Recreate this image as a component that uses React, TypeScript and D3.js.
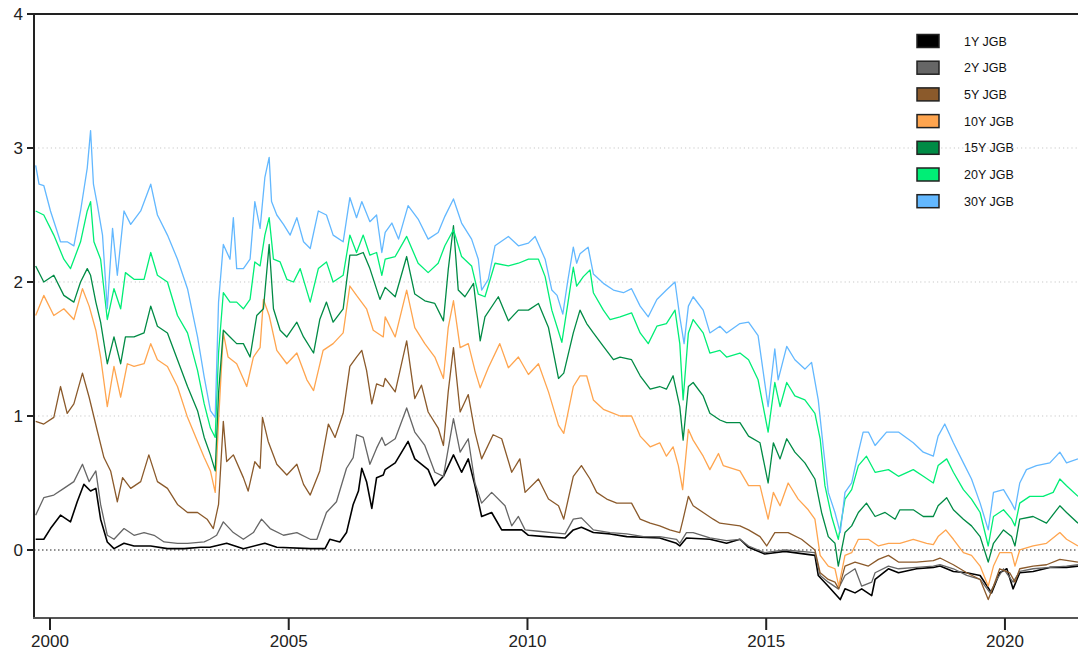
import React from "react";
import * as d3 from "d3";

// JGB yields (%), [decimal year, value]
const y1: [number, number][] = [
  [1999.7, 0.08], [1999.87, 0.08], [2000.01, 0.16], [2000.22, 0.26], [2000.43, 0.21], [2000.57, 0.36], [2000.71, 0.49],
  [2000.85, 0.44], [2000.96, 0.46], [2001.06, 0.23], [2001.2, 0.06], [2001.34, 0.01], [2001.55, 0.05], [2001.76, 0.03],
  [2002.11, 0.03], [2002.46, 0.01], [2002.81, 0.01], [2003.16, 0.02], [2003.35, 0.02], [2003.7, 0.05], [2004.05, 0.01],
  [2004.5, 0.05], [2004.75, 0.02], [2005.45, 0.01], [2005.76, 0.01], [2005.86, 0.08], [2006.07, 0.06], [2006.21, 0.13],
  [2006.35, 0.34], [2006.46, 0.44], [2006.53, 0.61], [2006.63, 0.51], [2006.74, 0.31], [2006.84, 0.54], [2006.98, 0.56],
  [2007.02, 0.6], [2007.23, 0.65], [2007.5, 0.81], [2007.64, 0.68], [2007.92, 0.6], [2008.06, 0.48], [2008.24, 0.55],
  [2008.45, 0.71], [2008.62, 0.58], [2008.76, 0.68], [2008.9, 0.48], [2009.04, 0.25], [2009.25, 0.28], [2009.46, 0.15],
  [2009.67, 0.15], [2009.88, 0.15], [2010.02, 0.11], [2010.37, 0.1], [2010.79, 0.09], [2010.96, 0.15], [2011.13, 0.17],
  [2011.38, 0.13], [2011.73, 0.12], [2012.08, 0.1], [2012.77, 0.09], [2013.12, 0.05], [2013.19, 0.03], [2013.33, 0.09],
  [2013.82, 0.08], [2014.17, 0.05], [2014.45, 0.08], [2014.63, 0.02], [2014.97, -0.03], [2015.39, -0.01], [2016.02, -0.04],
  [2016.09, -0.19], [2016.3, -0.27], [2016.55, -0.37], [2016.65, -0.29], [2016.86, -0.32], [2017.0, -0.29], [2017.21, -0.34],
  [2017.28, -0.22], [2017.56, -0.14], [2017.77, -0.17], [2018.15, -0.14], [2018.5, -0.13], [2018.64, -0.12], [2018.92, -0.16],
  [2019.2, -0.17], [2019.48, -0.19], [2019.72, -0.32], [2019.89, -0.17], [2020.04, -0.14], [2020.17, -0.29], [2020.31, -0.17],
  [2020.59, -0.16], [2020.94, -0.13], [2021.29, -0.13], [2021.53, -0.12],
];

const y2: [number, number][] = [
  [1999.7, 0.26], [1999.87, 0.39], [2000.08, 0.41], [2000.29, 0.46], [2000.5, 0.51], [2000.68, 0.64], [2000.82, 0.51],
  [2000.96, 0.59], [2001.06, 0.34], [2001.2, 0.11], [2001.34, 0.08], [2001.55, 0.16], [2001.76, 0.11], [2001.97, 0.13],
  [2002.18, 0.11], [2002.39, 0.06], [2002.67, 0.05], [2002.88, 0.05], [2003.23, 0.06], [2003.35, 0.08], [2003.49, 0.11],
  [2003.63, 0.21], [2003.84, 0.13], [2004.05, 0.08], [2004.26, 0.13], [2004.43, 0.23], [2004.61, 0.16], [2004.89, 0.11],
  [2005.17, 0.13], [2005.45, 0.08], [2005.59, 0.08], [2005.79, 0.28], [2006.0, 0.36], [2006.21, 0.61], [2006.35, 0.69],
  [2006.42, 0.86], [2006.56, 0.84], [2006.7, 0.64], [2006.84, 0.76], [2006.95, 0.84], [2007.02, 0.78], [2007.23, 0.83],
  [2007.47, 1.06], [2007.64, 0.88], [2007.85, 0.78], [2008.06, 0.58], [2008.24, 0.55], [2008.45, 0.98], [2008.59, 0.73],
  [2008.76, 0.83], [2008.9, 0.5], [2009.04, 0.35], [2009.25, 0.43], [2009.53, 0.33], [2009.67, 0.18], [2009.81, 0.25],
  [2009.95, 0.15], [2010.23, 0.14], [2010.51, 0.13], [2010.79, 0.12], [2010.96, 0.23], [2011.13, 0.24], [2011.38, 0.15],
  [2011.73, 0.13], [2012.08, 0.12], [2012.43, 0.1], [2012.77, 0.1], [2013.12, 0.08], [2013.19, 0.05], [2013.33, 0.13],
  [2013.47, 0.13], [2013.82, 0.09], [2014.17, 0.07], [2014.45, 0.08], [2014.63, 0.03], [2014.97, -0.02], [2015.39, 0.0],
  [2016.02, -0.02], [2016.13, -0.19], [2016.3, -0.24], [2016.51, -0.29], [2016.65, -0.19], [2016.86, -0.14], [2017.0, -0.27],
  [2017.21, -0.24], [2017.28, -0.17], [2017.56, -0.12], [2017.77, -0.14], [2018.15, -0.13], [2018.5, -0.12], [2018.64, -0.11],
  [2018.92, -0.14], [2019.2, -0.19], [2019.48, -0.22], [2019.69, -0.32], [2019.83, -0.22], [2019.97, -0.14], [2020.17, -0.24],
  [2020.31, -0.16], [2020.59, -0.14], [2020.94, -0.13], [2021.29, -0.12], [2021.53, -0.11],
];

const y5: [number, number][] = [
  [1999.7, 0.96], [1999.87, 0.94], [2000.08, 0.99], [2000.22, 1.22], [2000.36, 1.02], [2000.5, 1.09], [2000.68, 1.32],
  [2000.82, 1.14], [2000.99, 0.89], [2001.13, 0.69], [2001.27, 0.59], [2001.41, 0.36], [2001.52, 0.54], [2001.69, 0.46],
  [2001.9, 0.51], [2002.07, 0.71], [2002.25, 0.51], [2002.46, 0.46], [2002.67, 0.34], [2002.88, 0.28], [2003.09, 0.28],
  [2003.29, 0.23], [2003.42, 0.16], [2003.53, 0.34], [2003.63, 0.96], [2003.7, 0.66], [2003.84, 0.71], [2004.05, 0.54],
  [2004.15, 0.44], [2004.29, 0.66], [2004.4, 0.61], [2004.45, 0.99], [2004.57, 0.81], [2004.75, 0.64], [2004.96, 0.56],
  [2005.17, 0.64], [2005.31, 0.49], [2005.45, 0.41], [2005.65, 0.59], [2005.83, 0.94], [2005.97, 0.84], [2006.14, 1.02],
  [2006.28, 1.37], [2006.42, 1.44], [2006.53, 1.49], [2006.63, 1.34], [2006.74, 1.09], [2006.84, 1.24], [2006.98, 1.22],
  [2007.02, 1.28], [2007.23, 1.18], [2007.47, 1.56], [2007.64, 1.13], [2007.78, 1.23], [2007.92, 1.03], [2008.13, 0.91],
  [2008.24, 0.78], [2008.34, 1.18], [2008.45, 1.51], [2008.59, 1.03], [2008.76, 1.16], [2008.9, 0.88], [2009.04, 0.68],
  [2009.28, 0.86], [2009.46, 0.83], [2009.67, 0.58], [2009.84, 0.68], [2009.95, 0.43], [2010.23, 0.53], [2010.44, 0.38],
  [2010.65, 0.33], [2010.76, 0.23], [2010.96, 0.55], [2011.13, 0.63], [2011.31, 0.53], [2011.45, 0.43], [2011.66, 0.38],
  [2011.87, 0.35], [2012.18, 0.35], [2012.36, 0.23], [2012.57, 0.2], [2012.77, 0.18], [2012.98, 0.15], [2013.19, 0.13],
  [2013.26, 0.23], [2013.37, 0.4], [2013.47, 0.33], [2013.68, 0.28], [2013.89, 0.23], [2014.03, 0.2], [2014.45, 0.18],
  [2014.63, 0.15], [2014.87, 0.1], [2015.01, 0.03], [2015.18, 0.13], [2015.46, 0.13], [2015.74, 0.08], [2016.02, 0.0],
  [2016.13, -0.17], [2016.3, -0.22], [2016.44, -0.24], [2016.52, -0.29], [2016.65, -0.12], [2016.86, -0.09], [2017.14, -0.12],
  [2017.35, -0.07], [2017.56, -0.04], [2017.77, -0.09], [2018.15, -0.09], [2018.5, -0.08], [2018.64, -0.06], [2018.92, -0.11],
  [2019.2, -0.17], [2019.48, -0.22], [2019.65, -0.37], [2019.76, -0.27], [2019.89, -0.14], [2020.1, -0.17], [2020.21, -0.24],
  [2020.31, -0.14], [2020.59, -0.12], [2020.87, -0.11], [2021.15, -0.07], [2021.53, -0.09],
];

const y10: [number, number][] = [
  [1999.7, 1.75], [1999.87, 1.9], [2000.08, 1.75], [2000.29, 1.8], [2000.5, 1.72], [2000.68, 1.95], [2000.82, 1.82],
  [2000.96, 1.64], [2001.06, 1.44], [2001.2, 1.07], [2001.34, 1.37], [2001.48, 1.14], [2001.62, 1.39], [2001.76, 1.37],
  [2001.97, 1.39], [2002.11, 1.54], [2002.25, 1.42], [2002.46, 1.37], [2002.67, 1.22], [2002.88, 0.99], [2003.09, 0.81],
  [2003.23, 0.69], [2003.36, 0.59], [2003.46, 0.43], [2003.53, 0.96], [2003.63, 1.62], [2003.73, 1.44], [2003.91, 1.39],
  [2004.12, 1.22], [2004.26, 1.44], [2004.4, 1.51], [2004.47, 1.87], [2004.59, 1.75], [2004.75, 1.49], [2004.96, 1.39],
  [2005.17, 1.47], [2005.38, 1.27], [2005.52, 1.19], [2005.72, 1.49], [2005.93, 1.54], [2006.14, 1.62], [2006.28, 1.97],
  [2006.42, 1.9], [2006.63, 1.8], [2006.77, 1.64], [2006.98, 1.59], [2007.02, 1.74], [2007.23, 1.59], [2007.47, 1.94],
  [2007.64, 1.66], [2007.85, 1.54], [2008.06, 1.44], [2008.24, 1.28], [2008.34, 1.66], [2008.45, 1.86], [2008.59, 1.51],
  [2008.76, 1.54], [2008.9, 1.34], [2009.01, 1.21], [2009.18, 1.36], [2009.42, 1.54], [2009.6, 1.36], [2009.81, 1.44],
  [2010.02, 1.31], [2010.23, 1.39], [2010.44, 1.18], [2010.65, 0.93], [2010.76, 0.87], [2010.96, 1.22], [2011.1, 1.3],
  [2011.24, 1.3], [2011.38, 1.12], [2011.59, 1.05], [2011.8, 1.02], [2011.94, 1.0], [2012.18, 1.0], [2012.36, 0.85],
  [2012.57, 0.77], [2012.77, 0.8], [2012.91, 0.7], [2013.05, 0.77], [2013.16, 0.63], [2013.25, 0.45], [2013.37, 0.9],
  [2013.47, 0.82], [2013.68, 0.7], [2013.82, 0.6], [2014.0, 0.72], [2014.1, 0.63], [2014.45, 0.59], [2014.63, 0.48],
  [2014.87, 0.48], [2015.04, 0.23], [2015.15, 0.43], [2015.29, 0.33], [2015.46, 0.5], [2015.67, 0.38], [2015.88, 0.3],
  [2016.02, 0.23], [2016.13, -0.04], [2016.3, -0.12], [2016.44, -0.14], [2016.52, -0.27], [2016.65, -0.04], [2016.79, -0.02],
  [2016.93, 0.08], [2017.14, 0.08], [2017.35, 0.03], [2017.56, 0.05], [2017.8, 0.05], [2018.08, 0.08], [2018.36, 0.05],
  [2018.5, 0.04], [2018.6, 0.1], [2018.76, 0.15], [2018.92, 0.08], [2019.13, -0.02], [2019.3, -0.04], [2019.48, -0.12],
  [2019.65, -0.27], [2019.76, -0.12], [2019.89, -0.02], [2020.14, -0.02], [2020.21, -0.12], [2020.31, 0.0], [2020.59, 0.03],
  [2020.87, 0.05], [2021.15, 0.13], [2021.29, 0.08], [2021.53, 0.03],
];

const y15: [number, number][] = [
  [1999.7, 2.12], [1999.87, 2.0], [2000.08, 2.05], [2000.29, 1.9], [2000.5, 1.85], [2000.64, 2.0], [2000.78, 2.1],
  [2000.85, 2.05], [2000.96, 1.85], [2001.06, 1.7], [2001.2, 1.39], [2001.34, 1.59], [2001.48, 1.39], [2001.58, 1.59],
  [2001.76, 1.59], [2001.97, 1.62], [2002.11, 1.82], [2002.25, 1.67], [2002.46, 1.62], [2002.67, 1.42], [2002.88, 1.22],
  [2003.09, 1.04], [2003.23, 0.84], [2003.36, 0.71], [2003.46, 0.59], [2003.53, 1.17], [2003.63, 1.64], [2003.77, 1.59],
  [2003.91, 1.54], [2004.05, 1.54], [2004.19, 1.44], [2004.33, 1.75], [2004.47, 1.8], [2004.59, 2.28], [2004.68, 1.8],
  [2004.82, 1.64], [2004.96, 1.59], [2005.17, 1.7], [2005.31, 1.59], [2005.52, 1.47], [2005.65, 1.72], [2005.79, 1.85],
  [2005.93, 1.7], [2006.14, 1.8], [2006.28, 2.2], [2006.42, 2.2], [2006.56, 2.22], [2006.7, 2.1], [2006.91, 1.87],
  [2007.02, 1.96], [2007.23, 1.89], [2007.47, 2.19], [2007.64, 1.91], [2007.85, 1.86], [2008.06, 1.84], [2008.24, 1.71],
  [2008.34, 2.09], [2008.45, 2.42], [2008.55, 1.94], [2008.69, 1.89], [2008.87, 1.99], [2009.01, 1.56], [2009.11, 1.74],
  [2009.39, 1.89], [2009.6, 1.71], [2009.81, 1.79], [2010.02, 1.79], [2010.23, 1.84], [2010.44, 1.66], [2010.65, 1.28],
  [2010.76, 1.32], [2010.96, 1.62], [2011.1, 1.79], [2011.24, 1.69], [2011.38, 1.62], [2011.59, 1.52], [2011.8, 1.42],
  [2011.94, 1.44], [2012.18, 1.42], [2012.36, 1.3], [2012.57, 1.2], [2012.77, 1.22], [2012.91, 1.2], [2013.05, 1.3],
  [2013.19, 1.07], [2013.26, 0.82], [2013.37, 1.22], [2013.47, 1.25], [2013.68, 1.15], [2013.82, 1.02], [2014.03, 0.97],
  [2014.17, 0.95], [2014.45, 0.95], [2014.63, 0.85], [2014.87, 0.8], [2015.04, 0.5], [2015.15, 0.8], [2015.29, 0.68],
  [2015.43, 0.83], [2015.6, 0.73], [2015.81, 0.65], [2016.02, 0.53], [2016.16, 0.28], [2016.3, 0.1], [2016.44, 0.05],
  [2016.51, -0.12], [2016.65, 0.13], [2016.79, 0.18], [2016.93, 0.28], [2017.1, 0.35], [2017.28, 0.25], [2017.49, 0.28],
  [2017.7, 0.23], [2017.8, 0.3], [2018.08, 0.3], [2018.29, 0.25], [2018.5, 0.25], [2018.6, 0.33], [2018.78, 0.39],
  [2018.92, 0.3], [2019.13, 0.23], [2019.3, 0.18], [2019.48, 0.1], [2019.65, -0.09], [2019.76, 0.05], [2019.97, 0.15],
  [2020.14, 0.1], [2020.21, 0.03], [2020.31, 0.23], [2020.59, 0.25], [2020.87, 0.2], [2021.15, 0.33], [2021.29, 0.28],
  [2021.53, 0.2],
];

const y20: [number, number][] = [
  [1999.7, 2.53], [1999.87, 2.5], [2000.08, 2.35], [2000.29, 2.17], [2000.43, 2.1], [2000.64, 2.3], [2000.78, 2.53],
  [2000.85, 2.6], [2000.92, 2.3], [2001.06, 2.17], [2001.2, 1.72], [2001.34, 1.95], [2001.48, 1.8], [2001.58, 2.07],
  [2001.76, 2.02], [2001.97, 2.02], [2002.11, 2.22], [2002.25, 2.05], [2002.46, 2.0], [2002.67, 1.75], [2002.88, 1.62],
  [2003.09, 1.34], [2003.23, 1.09], [2003.36, 0.91], [2003.46, 0.84], [2003.53, 1.47], [2003.63, 1.92], [2003.77, 1.85],
  [2003.91, 1.85], [2004.05, 1.8], [2004.19, 1.87], [2004.29, 2.15], [2004.4, 2.12], [2004.5, 2.35], [2004.59, 2.48],
  [2004.68, 2.17], [2004.82, 2.15], [2004.96, 2.02], [2005.1, 2.0], [2005.24, 2.1], [2005.45, 1.85], [2005.62, 2.1],
  [2005.79, 2.15], [2005.93, 2.0], [2006.14, 2.05], [2006.28, 2.35], [2006.42, 2.22], [2006.56, 2.35], [2006.7, 2.2],
  [2006.84, 2.22], [2006.95, 2.05], [2007.02, 2.17], [2007.23, 2.19], [2007.47, 2.34], [2007.71, 2.14], [2007.92, 2.07],
  [2008.13, 2.14], [2008.27, 2.27], [2008.45, 2.39], [2008.62, 2.19], [2008.83, 2.12], [2008.97, 1.91], [2009.11, 1.89],
  [2009.32, 2.14], [2009.6, 2.12], [2009.81, 2.14], [2010.02, 2.17], [2010.23, 2.17], [2010.37, 2.04], [2010.51, 1.79],
  [2010.72, 1.55], [2010.85, 1.85], [2010.96, 2.11], [2011.03, 1.97], [2011.17, 2.04], [2011.31, 2.09], [2011.38, 1.92],
  [2011.59, 1.79], [2011.73, 1.72], [2011.94, 1.74], [2012.18, 1.77], [2012.36, 1.62], [2012.53, 1.54], [2012.71, 1.67],
  [2012.91, 1.69], [2013.09, 1.79], [2013.19, 1.54], [2013.26, 1.12], [2013.37, 1.62], [2013.47, 1.72], [2013.68, 1.62],
  [2013.82, 1.47], [2014.03, 1.49], [2014.17, 1.44], [2014.45, 1.47], [2014.63, 1.42], [2014.83, 1.27], [2015.04, 0.88],
  [2015.18, 1.25], [2015.29, 1.07], [2015.43, 1.25], [2015.6, 1.15], [2015.81, 1.12], [2016.02, 1.02], [2016.13, 0.83],
  [2016.23, 0.48], [2016.37, 0.25], [2016.51, 0.08], [2016.65, 0.38], [2016.79, 0.45], [2016.93, 0.63], [2017.1, 0.7],
  [2017.28, 0.58], [2017.56, 0.6], [2017.77, 0.55], [2018.08, 0.6], [2018.29, 0.55], [2018.5, 0.5], [2018.6, 0.63],
  [2018.78, 0.68], [2018.92, 0.58], [2019.13, 0.45], [2019.3, 0.38], [2019.48, 0.28], [2019.65, 0.03], [2019.76, 0.25],
  [2019.97, 0.3], [2020.14, 0.23], [2020.21, 0.18], [2020.31, 0.35], [2020.52, 0.4], [2020.8, 0.4], [2021.01, 0.43],
  [2021.15, 0.53], [2021.29, 0.48], [2021.53, 0.4],
];

const y30: [number, number][] = [
  [1999.7, 2.87], [1999.77, 2.73], [1999.87, 2.72], [2000.01, 2.53], [2000.22, 2.3], [2000.36, 2.3], [2000.5, 2.27],
  [2000.64, 2.53], [2000.78, 2.85], [2000.85, 3.13], [2000.91, 2.73], [2000.99, 2.58], [2001.1, 2.35], [2001.2, 1.8],
  [2001.31, 2.4], [2001.41, 2.05], [2001.55, 2.53], [2001.69, 2.43], [2001.9, 2.53], [2002.11, 2.73], [2002.25, 2.5],
  [2002.46, 2.35], [2002.67, 2.17], [2002.88, 1.95], [2003.09, 1.59], [2003.23, 1.29], [2003.36, 1.04], [2003.46, 0.99],
  [2003.53, 1.85], [2003.63, 2.28], [2003.77, 2.17], [2003.84, 2.48], [2003.91, 2.1], [2004.05, 2.1], [2004.19, 2.17],
  [2004.29, 2.6], [2004.4, 2.4], [2004.5, 2.78], [2004.59, 2.93], [2004.64, 2.6], [2004.75, 2.5], [2004.89, 2.43],
  [2005.03, 2.35], [2005.17, 2.48], [2005.31, 2.3], [2005.45, 2.25], [2005.62, 2.53], [2005.79, 2.5], [2005.93, 2.35],
  [2006.14, 2.3], [2006.28, 2.63], [2006.42, 2.48], [2006.53, 2.6], [2006.7, 2.45], [2006.84, 2.5], [2006.95, 2.22],
  [2007.02, 2.37], [2007.16, 2.44], [2007.3, 2.32], [2007.5, 2.57], [2007.71, 2.47], [2007.92, 2.32], [2008.13, 2.37],
  [2008.27, 2.49], [2008.45, 2.62], [2008.62, 2.44], [2008.83, 2.32], [2008.97, 2.17], [2009.04, 1.94], [2009.18, 2.02],
  [2009.32, 2.27], [2009.6, 2.34], [2009.81, 2.27], [2010.02, 2.29], [2010.16, 2.34], [2010.37, 2.17], [2010.51, 1.94],
  [2010.62, 1.9], [2010.74, 1.76], [2010.84, 2.0], [2010.96, 2.26], [2011.03, 2.14], [2011.1, 2.21], [2011.27, 2.26],
  [2011.38, 2.06], [2011.59, 1.99], [2011.8, 1.94], [2012.01, 1.92], [2012.18, 1.95], [2012.36, 1.82], [2012.53, 1.74],
  [2012.71, 1.87], [2012.91, 1.94], [2013.09, 2.0], [2013.19, 1.74], [2013.28, 1.54], [2013.37, 1.82], [2013.47, 1.89],
  [2013.68, 1.79], [2013.82, 1.62], [2014.03, 1.67], [2014.17, 1.62], [2014.45, 1.69], [2014.63, 1.7], [2014.83, 1.6],
  [2015.04, 1.07], [2015.18, 1.5], [2015.25, 1.27], [2015.43, 1.52], [2015.6, 1.42], [2015.81, 1.35], [2015.95, 1.4],
  [2016.09, 1.12], [2016.2, 0.75], [2016.3, 0.43], [2016.44, 0.28], [2016.55, 0.13], [2016.65, 0.43], [2016.79, 0.5],
  [2016.93, 0.73], [2017.03, 0.88], [2017.14, 0.88], [2017.28, 0.78], [2017.52, 0.88], [2017.77, 0.88], [2018.08, 0.8],
  [2018.29, 0.73], [2018.5, 0.7], [2018.6, 0.85], [2018.74, 0.94], [2018.92, 0.8], [2019.13, 0.65], [2019.3, 0.53],
  [2019.48, 0.35], [2019.65, 0.15], [2019.76, 0.43], [2019.97, 0.45], [2020.14, 0.35], [2020.21, 0.3], [2020.31, 0.5],
  [2020.45, 0.6], [2020.66, 0.63], [2020.94, 0.65], [2021.15, 0.73], [2021.29, 0.65], [2021.53, 0.68],
];

const seriesNames = ["1Y JGB", "2Y JGB", "5Y JGB", "10Y JGB", "15Y JGB", "20Y JGB", "30Y JGB"];
const seriesData = [y1, y2, y5, y10, y15, y20, y30];
const seriesColors = ["#000000", "#666666", "#8B5A2B", "#FFA54F", "#008B45", "#00EE76", "#63B8FF"];
const yTicks = [0, 1, 2, 3, 4];
const xTicks = [2000, 2005, 2010, 2015, 2020];

const W = 1078;
const H = 651;
const left = 34;
const right = 1078;
const top = 14;
const bottom = 618;

export default function App() {
  const x = d3.scaleLinear().domain([1999.665, 2021.53]).range([left, right]);
  const y = d3.scaleLinear().domain([-0.5075, 4]).range([bottom, top]);
  const line = d3
    .line<[number, number]>()
    .x((d) => x(d[0]))
    .y((d) => y(d[1]));

  const font = "'Liberation Sans', Arial, Helvetica, sans-serif";

  return (
    <svg
      width={W}
      height={H}
      viewBox={`0 0 ${W} ${H}`}
      style={{ position: "absolute", left: 0, top: 0, background: "#fff" }}
      fontFamily={font}
    >
      <defs>
        <clipPath id="plot">
          <rect x={left} y={top} width={right - left} height={bottom - top} />
        </clipPath>
      </defs>

      {/* grid */}
      {[1, 2, 3].map((v) => (
        <line
          key={v}
          x1={left}
          x2={right}
          y1={y(v)}
          y2={y(v)}
          stroke="#c8c8c8"
          strokeWidth={1}
          strokeDasharray="1.2,3"
        />
      ))}
      <line x1={left} x2={right} y1={y(0)} y2={y(0)} stroke="#222" strokeWidth={1.2} strokeDasharray="1.5,2.5" />

      {/* series, 1Y first so 30Y ends on top */}
      <g clipPath="url(#plot)" fill="none" strokeLinejoin="round">
        {seriesData.map((s, i) => (
          <path key={seriesNames[i]} d={line(s) ?? ""} stroke={seriesColors[i]} strokeWidth={i === 0 ? 1.6 : 1.3} />
        ))}
      </g>

      {/* axes */}
      <line x1={left} x2={left} y1={top} y2={bottom} stroke="#222" strokeWidth={2} />
      <line x1={left - 7} x2={right} y1={top} y2={top} stroke="#222" strokeWidth={2} />
      <line x1={left - 1} x2={right} y1={bottom} y2={bottom} stroke="#555" strokeWidth={2} />

      {yTicks.map((v) => (
        <g key={v}>
          <line x1={left - 7} x2={left} y1={y(v)} y2={y(v)} stroke="#222" strokeWidth={2} />
          <text x={left - 11} y={y(v)} dy="0.36em" textAnchor="end" fontSize={17} fill="#222">
            {v}
          </text>
        </g>
      ))}
      {xTicks.map((t) => (
        <g key={t}>
          <line x1={x(t)} x2={x(t)} y1={bottom} y2={bottom + 12} stroke="#222" strokeWidth={2} />
          <text x={x(t)} y={bottom + 29} textAnchor="middle" fontSize={17} fill="#222">
            {t}
          </text>
        </g>
      ))}

      {/* legend */}
      <g>
        {seriesNames.map((n, i) => (
          <g key={n} transform={`translate(917, ${41 + i * 26.7})`}>
            <rect x={0} y={-6.5} width={22} height={13} fill={seriesColors[i]} stroke="#222" strokeWidth={1.5} />
            <text x={47} y={0} dy="0.36em" fontSize={12.5} fill="#111">
              {n}
            </text>
          </g>
        ))}
      </g>
    </svg>
  );
}
